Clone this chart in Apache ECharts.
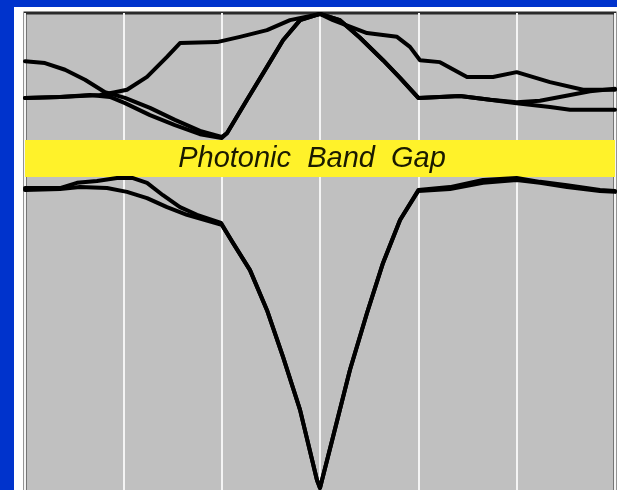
<!DOCTYPE html>
<html><head><meta charset="utf-8">
<script src="https://cdn.jsdelivr.net/npm/echarts@6/dist/echarts.min.js"></script>
<style>html,body{margin:0;padding:0;background:#0033cc;overflow:hidden;}#c{width:617px;height:496px;}</style>
</head><body><div id="c"></div>
<script>
// k-path position (0..6) and normalized frequency (0..1)
const kTicks = [0, 1, 2, 3, 4, 5, 6];
const gapRange = [0.656, 0.734];
const gapLabel = 'Photonic  Band  Gap';
const bandA = [[0,0.899],[0.203,0.895],[0.407,0.881],[0.610,0.860],[0.814,0.834],[1.017,0.822],[1.271,0.801],[1.525,0.776],[1.780,0.753],[2.0,0.740],[2.054,0.748],[2.258,0.818],[2.461,0.887],[2.624,0.943],[2.797,0.985],[3.0,0.998],[3.203,0.985],[3.407,0.948],[3.641,0.901],[3.814,0.864],[4.0,0.822],[4.220,0.824],[4.424,0.826],[4.729,0.818],[5.0,0.811],[5.339,0.803],[5.542,0.797],[6.0,0.797]];
const bandB = [[0,0.822],[0.356,0.824],[0.763,0.828],[0.915,0.834],[1.037,0.839],[1.241,0.866],[1.444,0.908],[1.576,0.937],[1.953,0.939],[2.186,0.950],[2.461,0.964],[2.695,0.985],[3.0,0.998],[3.132,0.985],[3.478,0.958],[3.783,0.950],[3.915,0.929],[4.017,0.901],[4.220,0.897],[4.495,0.866],[4.759,0.866],[5.0,0.876],[5.339,0.855],[5.675,0.839],[6.0,0.839]];
const bandC = [[0,0.822],[0.356,0.824],[0.661,0.828],[0.864,0.824],[1.017,0.811],[1.271,0.786],[1.525,0.765],[1.780,0.746],[2.0,0.738],[2.054,0.748],[2.258,0.818],[2.461,0.887],[2.624,0.943],[2.797,0.985],[3.0,0.998],[3.203,0.985],[3.407,0.948],[3.641,0.901],[3.814,0.864],[4.0,0.822],[4.424,0.826],[4.729,0.818],[5.0,0.813],[5.237,0.816],[5.492,0.826],[5.746,0.836],[6.0,0.841]];
const bandD = [[0,0.633],[0.356,0.633],[0.529,0.644],[0.732,0.648],[0.936,0.654],[1.098,0.654],[1.241,0.644],[1.403,0.618],[1.576,0.593],[1.749,0.577],[1.993,0.560],[2.115,0.518],[2.288,0.461],[2.461,0.377],[2.624,0.279],[2.797,0.168],[2.969,0.021],[3.0,0.004],[3.132,0.111],[3.305,0.252],[3.478,0.371],[3.641,0.476],[3.814,0.566],[4.0,0.629],[4.322,0.635],[4.658,0.650],[5.0,0.654],[5.237,0.646],[5.512,0.639],[5.847,0.629],[6.0,0.627]];
const bandE = [[0,0.629],[0.356,0.631],[0.559,0.635],[0.834,0.633],[1.037,0.625],[1.241,0.612],[1.444,0.593],[1.647,0.577],[2.0,0.556],[2.115,0.518],[2.288,0.461],[2.461,0.377],[2.624,0.279],[2.797,0.168],[2.969,0.021],[3.0,0.004],[3.132,0.111],[3.305,0.252],[3.478,0.371],[3.641,0.476],[3.814,0.566],[4.0,0.627],[4.322,0.631],[4.658,0.644],[5.0,0.650],[5.237,0.644],[5.512,0.635],[5.847,0.627],[6.0,0.625]];

const chart = echarts.init(document.getElementById('c'), null, {renderer:'canvas'});
const lineSeries = (d) => ({type:'line', data:d, symbol:'none', smooth:false, z:5,
  lineStyle:{color:'#000', width:4, join:'round', cap:'round'}, silent:true});
const series = [bandA, bandB, bandC, bandD, bandE].map(lineSeries);
series.push({type:'line', data:[], z:2, silent:true,
  markArea:{silent:true, itemStyle:{color:'#fff22a', opacity:1},
    label:{show:true, position:'inside', offset:[-8,0], color:'#1a1a00', fontFamily:'Liberation Sans, Arial, sans-serif', fontStyle:'italic', fontSize:29},
    data:[[{yAxis:gapRange[0], name:gapLabel},{yAxis:gapRange[1]}]]}});
chart.setOption({
  backgroundColor:'#0033cc',
  animation:false,
  graphic:[{type:'rect', z:-10, shape:{x:14, y:7, width:610, height:500}, style:{fill:'#ffffff'}}],
  grid:{left:25, right:2, top:13, bottom:0, show:true, backgroundColor:'#c0c0c0', borderColor:'#2a2a2a', borderWidth:3},
  xAxis:{type:'value', min:kTicks[0], max:kTicks[kTicks.length-1], interval:1, z:1,
    axisLine:{show:false}, axisTick:{show:false}, axisLabel:{show:false},
    splitLine:{show:true, lineStyle:{color:'#f4f4f4', width:2}}},
  yAxis:{type:'value', min:-0.01258, max:1, axisLine:{show:false}, axisTick:{show:false}, axisLabel:{show:false}, splitLine:{show:false}},
  series:series
});
</script></body></html>
